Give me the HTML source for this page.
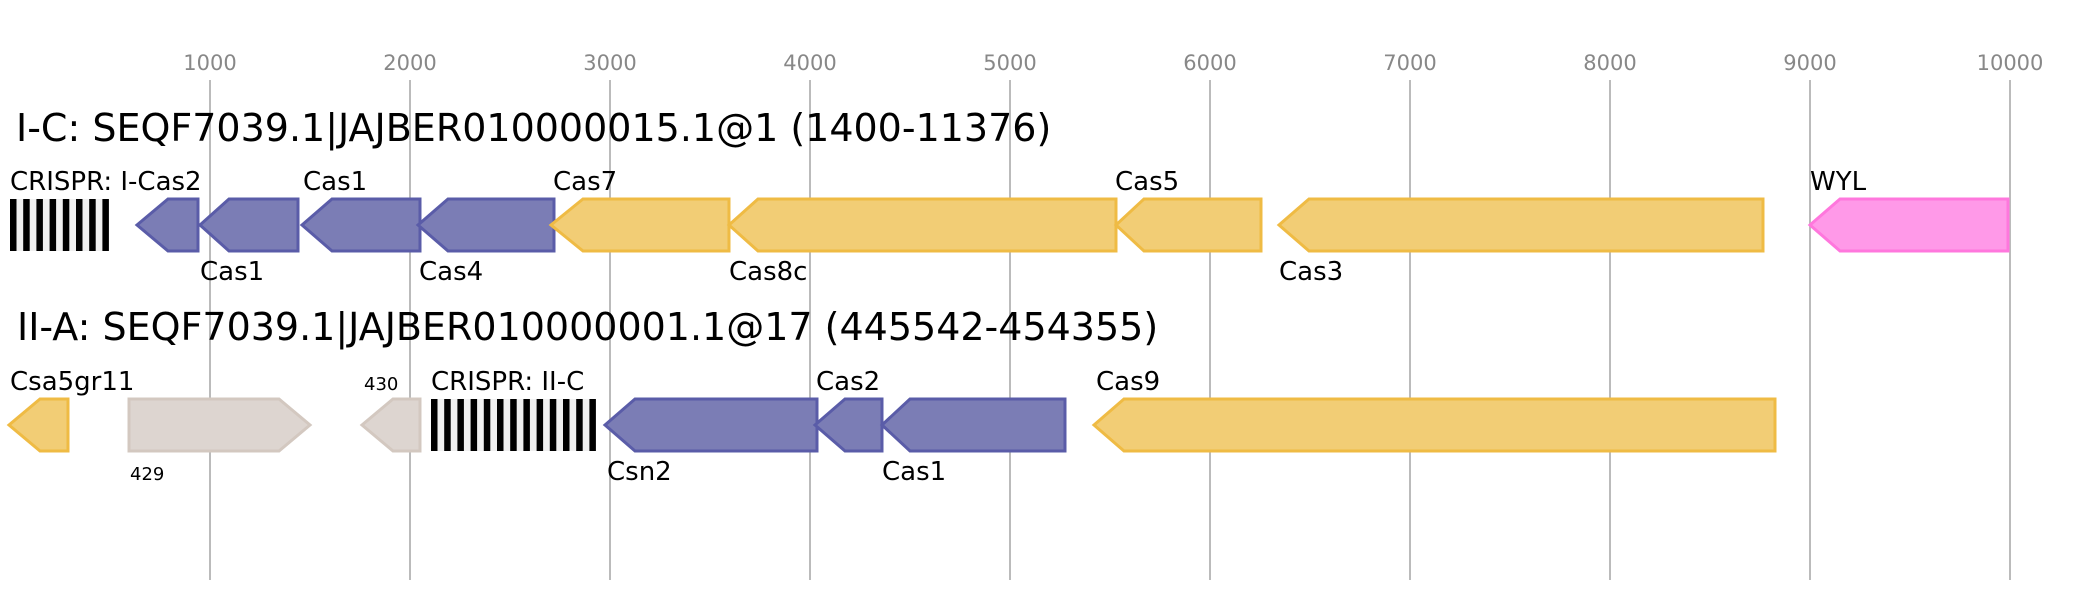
<!DOCTYPE html>
<html><head><meta charset="utf-8"><style>html,body{margin:0;padding:0;background:#fff}svg{display:block}</style></head>
<body>
<svg width="2095" height="600" xmlns="http://www.w3.org/2000/svg" font-family="DejaVu Sans, Liberation Sans, sans-serif">
<g stroke="#bbb" stroke-width="2">
<line x1="210" y1="80" x2="210" y2="580"/><line x1="410" y1="80" x2="410" y2="580"/><line x1="610" y1="80" x2="610" y2="580"/><line x1="810" y1="80" x2="810" y2="580"/><line x1="1010" y1="80" x2="1010" y2="580"/><line x1="1210" y1="80" x2="1210" y2="580"/><line x1="1410" y1="80" x2="1410" y2="580"/><line x1="1610" y1="80" x2="1610" y2="580"/><line x1="1810" y1="80" x2="1810" y2="580"/><line x1="2010" y1="80" x2="2010" y2="580"/>
</g>
<g fill="#888" font-size="21" text-anchor="middle">
<text x="210" y="70">1000</text><text x="410" y="70">2000</text><text x="610" y="70">3000</text><text x="810" y="70">4000</text><text x="1010" y="70">5000</text><text x="1210" y="70">6000</text><text x="1410" y="70">7000</text><text x="1610" y="70">8000</text><text x="1810" y="70">9000</text><text x="2010" y="70">10000</text>
</g>
<text x="16" y="141" font-size="38" fill="#000">I-C: SEQF7039.1|JAJBER010000015.1@1 (1400-11376)</text>
<text x="17" y="340" font-size="38" fill="#000">II-A: SEQF7039.1|JAJBER010000001.1@17 (445542-454355)</text>
<!-- CRISPR row1 -->
<rect x="10" y="199" width="99" height="52" fill="#f0f0f0"/>
<g fill="#000">
<rect x="10" y="199" width="6.5" height="52"/><rect x="23.2" y="199" width="6.5" height="52"/><rect x="36.4" y="199" width="6.5" height="52"/><rect x="49.6" y="199" width="6.5" height="52"/><rect x="62.8" y="199" width="6.5" height="52"/><rect x="76" y="199" width="6.5" height="52"/><rect x="89.2" y="199" width="6.5" height="52"/><rect x="102.4" y="199" width="6.5" height="52"/>
</g>
<g stroke-width="3" fill-opacity="1">
<g fill="#7b7db5" stroke="#5a5ca8">
<path d="M198,199 L168,199 L137,225 L168,251 L198,251Z"/>
<path d="M298,199 L229,199 L200,225 L229,251 L298,251Z"/>
<path d="M420,199 L332,199 L302,225 L332,251 L420,251Z"/>
<path d="M554,199 L448,199 L418,225 L448,251 L554,251Z"/>
</g>
<g fill="#f2cd75" stroke="#efbb44">
<path d="M729,199 L583,199 L551,225 L583,251 L729,251Z"/>
<path d="M1116,199 L758,199 L729,225 L758,251 L1116,251Z"/>
<path d="M1261,199 L1144,199 L1116,225 L1144,251 L1261,251Z"/>
<path d="M1763,199 L1309,199 L1279,225 L1309,251 L1763,251Z"/>
</g>
<path d="M2008,199 L1840,199 L1810,225 L1840,251 L2008,251Z" fill="#ff99e8" stroke="#ff77dd"/>
</g>
<g font-size="26" fill="#000">
<text x="10" y="190">CRISPR: I-Cas2</text><text x="303" y="190">Cas1</text><text x="553" y="190">Cas7</text><text x="1115" y="190">Cas5</text><text x="1810" y="190">WYL</text>
<text x="200" y="280">Cas1</text><text x="419" y="280">Cas4</text><text x="729" y="280">Cas8c</text><text x="1279" y="280">Cas3</text>
</g>
<!-- row2 -->
<g stroke-width="3">
<path d="M68,399 L40,399 L9,425 L40,451 L68,451Z" fill="#f2cd75" stroke="#efbb44"/>
<path d="M129,399 L279,399 L310,425 L279,451 L129,451Z" fill="#ddd5d0" stroke="#d3c8c0"/>
<path d="M420,399 L393,399 L362,425 L393,451 L420,451Z" fill="#ddd5d0" stroke="#d3c8c0"/>
<g fill="#7b7db5" stroke="#5a5ca8">
<path d="M817,399 L635,399 L605,425 L635,451 L817,451Z"/>
<path d="M882,399 L845,399 L815,425 L845,451 L882,451Z"/>
<path d="M1065,399 L910,399 L882,425 L910,451 L1065,451Z"/>
</g>
<path d="M1775,399 L1124,399 L1094,425 L1124,451 L1775,451Z" fill="#f2cd75" stroke="#efbb44"/>
</g>
<rect x="431" y="399" width="165" height="52" fill="#f0f0f0"/>
<g fill="#000">
<rect x="431" y="399" width="6.5" height="52"/><rect x="444.2" y="399" width="6.5" height="52"/><rect x="457.4" y="399" width="6.5" height="52"/><rect x="470.6" y="399" width="6.5" height="52"/><rect x="483.8" y="399" width="6.5" height="52"/><rect x="497" y="399" width="6.5" height="52"/><rect x="510.2" y="399" width="6.5" height="52"/><rect x="523.4" y="399" width="6.5" height="52"/><rect x="536.6" y="399" width="6.5" height="52"/><rect x="549.8" y="399" width="6.5" height="52"/><rect x="563" y="399" width="6.5" height="52"/><rect x="576.2" y="399" width="6.5" height="52"/><rect x="589.4" y="399" width="6.5" height="52"/>
</g>
<g font-size="26" fill="#000">
<text x="10" y="390">Csa5gr11</text><text x="431" y="390">CRISPR: II-C</text><text x="816" y="390">Cas2</text><text x="1096" y="390">Cas9</text>
<text x="607" y="480">Csn2</text><text x="882" y="480">Cas1</text>
</g>
<g font-size="18" fill="#000"><text x="364" y="390">430</text><text x="130" y="480">429</text></g>
</svg>
</body></html>
